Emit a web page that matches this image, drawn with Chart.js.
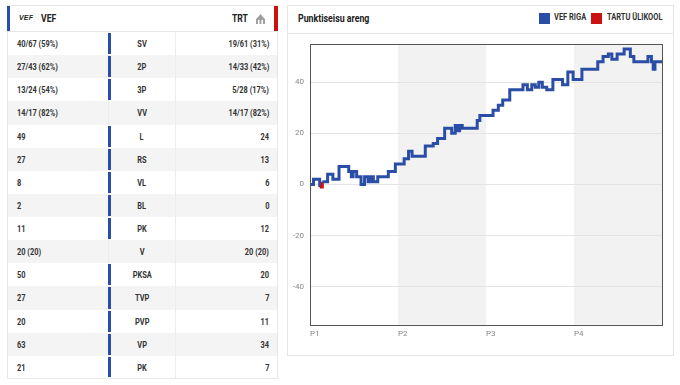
<!DOCTYPE html>
<html>
<head>
<meta charset="utf-8">
<script src="https://cdn.jsdelivr.net/npm/chart.js@4.4.1/dist/chart.umd.min.js"></script>
<style>
  body { margin: 0; background: #fff; width: 680px; height: 385px; overflow: hidden; position: relative;
         font-family: Roboto, sans-serif; color: #333; }
  .nar { display: inline-block; transform: scaleX(0.78); transform-origin: left center; white-space: nowrap; }
  .stats { position: absolute; left: 7px; top: 5px; width: 271px; }
  .stats-head { position: relative; height: 27px; border: 1px solid #e6e6e6; border-left: 0; border-right: 0; box-sizing: border-box; }
  .stats-head .bar-l { position: absolute; left: 0; top: 0; bottom: 0; width: 3px; background: #2a4ea6; }
  .stats-head .bar-r { position: absolute; right: 0; top: 0; bottom: 0; width: 4px; background: #cc1111; }
  .logo { position: absolute; left: 12px; top: 8px; font: italic 900 7px Arial, sans-serif; letter-spacing: 0.2px; color: #222; }
  .team { position: absolute; top: 6px; font-weight: bold; font-size: 10.5px; color: #222; transform: scaleX(0.82); transform-origin: left center; }
  table { border-collapse: collapse; width: 271px; table-layout: fixed; }
  td { height: 23.13px; padding: 0; font-size: 9.5px; font-weight: bold; border: 1px solid #ececec; border-top: 0; border-bottom: 0; box-sizing: border-box; white-space: nowrap; }
  tr:nth-child(even) td { background: #f4f4f4; }
  td.l { padding-left: 9px; width: 101px; border-left: 1px solid #e8e8e8; }
  td.m { text-align: center; width: 67px; position: relative; }
  td.m .nar { transform-origin: center center; }
  td.r { text-align: right; padding-right: 8px; border-right: 1px solid #e8e8e8; }
  td.r .nar { transform-origin: right center; }
  tr:last-child td { border-bottom: 1px solid #e8e8e8; }
  td.m .win { position: absolute; left: -1px; top: 1px; bottom: 1px; width: 3px; background: #2a4ea6; }
  .panel { position: absolute; left: 287px; top: 5px; width: 387px; height: 351px; border: 1px solid #e6e6e6; box-sizing: border-box; }
  .panel-head { height: 27px; border-bottom: 1px solid #e6e6e6; position: relative; }
  .panel-head .title { position: absolute; left: 10px; top: 6px; font-weight: bold; font-size: 11px; color: #222; transform: scaleX(0.8); transform-origin: left center; white-space: nowrap; }
  .leg-box { position: absolute; top: 13px; width: 11px; height: 11px; }
  .leg-text { position: absolute; top: 12px; font-size: 8.5px; font-weight: bold; color: #333; transform: scaleX(0.88); transform-origin: left center; white-space: nowrap; }
  .chart-box { position: absolute; left: 288px; top: 33px; width: 386px; height: 323px; }
</style>
</head>
<body>

<div class="stats">
  <div class="stats-head">
    <div class="bar-l"></div>
    <div class="logo">VEF</div>
    <div class="team" style="left:34px">VEF</div>
    <div class="team" style="left:225px">TRT</div>
    <svg style="position:absolute;left:248px;top:7px" width="11" height="12" viewBox="0 0 11 12">
      <path d="M1 11 L1 6 L3 4 L5.5 1 L8 4 L10 6 L10 11 Z" fill="#a0a0a0"/>
      <rect x="3" y="7" width="1.5" height="4" fill="#fff"/><rect x="6.5" y="7" width="1.5" height="4" fill="#fff"/>
    </svg>
    <div class="bar-r"></div>
  </div>
  <table id="stats-body"></table>
</div>

<div class="panel">
  <div class="panel-head">
    <div class="title">Punktiseisu areng</div>
  </div>
</div>
<div class="leg-box" style="left:539px;background:#2a4ea6"></div>
<div class="leg-text" style="left:554px">VEF RIGA</div>
<div class="leg-box" style="left:591px;background:#cc1111"></div>
<div class="leg-text" style="left:607px">TARTU ÜLIKOOL</div>
<div class="chart-box"><canvas id="scoreChart"></canvas></div>

<script>
// team stats table
const statLabels = ['SV', '2P', '3P', 'VV', 'L', 'RS', 'VL', 'BL', 'PK', 'V', 'PKSA', 'TVP', 'PVP', 'VP', 'PK'];
const vefStats = ['40/67 (59%)', '27/43 (62%)', '13/24 (54%)', '14/17 (82%)', '49', '27', '8', '2', '11', '20 (20)', '50', '27', '20', '63', '21'];
const trtStats = ['19/61 (31%)', '14/33 (42%)', '5/28 (17%)', '14/17 (82%)', '24', '13', '6', '0', '12', '20 (20)', '20', '7', '11', '34', '7'];
const vefWins = [true, true, true, false, true, true, true, true, true, false, true, true, true, true, true];

// score difference (VEF - TRT) over game minutes
const gameMinutes = [0, 0.4, 1.1, 1.4, 2.0, 2.6, 3.3, 4.4, 4.7, 4.9, 5.3, 5.8, 6.2, 6.6, 6.9, 7.2, 7.7, 8.9, 9.7, 10.7,
  11.2, 11.6, 13.1, 14.0, 14.5, 15.3, 16.1, 16.5, 16.8, 17.0, 17.3, 19.0, 19.3, 20.8, 21.4, 21.9, 22.7, 24.2, 24.7, 25.2,
  25.6, 26.0, 26.4, 26.9, 27.6, 28.7, 29.3, 29.9, 30.9, 32.7, 33.3, 33.9, 34.3, 34.9, 35.7, 36.4, 36.8, 38.4, 38.8, 39.0, 39.2, 40];
const scoreDiff = [0, 2, -1, 1, 4, 2, 7, 5, 3, 5, 3, 0, 3, 1, 3, 1, 3, 5, 8, 10,
  13, 11, 15, 16, 18, 22, 20, 23, 21, 23, 22, 25, 27, 29, 31, 33, 37, 39, 37, 39,
  38, 40, 38, 37, 41, 39, 44, 41, 45, 48, 50, 51, 49, 51, 53, 50, 48, 50, 48, 45, 48, 48];
const periodLabels = ['P1', 'P2', 'P3', 'P4'];
const periodStarts = [0, 10, 20, 30];
const yTickValues = [-40, -20, 0, 20, 40];

const tbody = document.getElementById('stats-body');
statLabels.forEach((label, i) => {
  const row = document.createElement('tr');
  row.innerHTML = `
    <td class="l"><span class="nar">${vefStats[i]}</span></td>
    <td class="m">${vefWins[i] ? '<div class="win"></div>' : ''}<span class="nar">${label}</span></td>
    <td class="r"><span class="nar">${trtStats[i]}</span></td>
  `;
  tbody.appendChild(row);
});

const BLUE = '#2a4ea6';
const RED = '#cc1111';

// shade 2nd and 4th quarter, frame the plot
const periodBands = {
  id: 'periodBands',
  beforeDraw(chart) {
    const { ctx, chartArea, scales } = chart;
    ctx.save();
    ctx.fillStyle = '#f2f2f2';
    [1, 3].forEach(i => {
      const x0 = scales.x.getPixelForValue(periodStarts[i]);
      const x1 = scales.x.getPixelForValue(i + 1 < periodStarts.length ? periodStarts[i + 1] : scales.x.max);
      ctx.fillRect(x0, chartArea.top, x1 - x0, chartArea.bottom - chartArea.top);
    });
    ctx.restore();
  },
  afterDraw(chart) {
    const { ctx, chartArea } = chart;
    ctx.save();
    ctx.strokeStyle = '#555';
    ctx.lineWidth = 1;
    ctx.strokeRect(Math.round(chartArea.left) + 0.5, Math.round(chartArea.top) + 0.5,
      Math.round(chartArea.right - chartArea.left), Math.round(chartArea.bottom - chartArea.top));
    ctx.restore();
  }
};

new Chart(document.getElementById('scoreChart'), {
  type: 'line',
  data: {
    datasets: [{
      data: gameMinutes.map((m, i) => ({ x: m, y: scoreDiff[i] })),
      stepped: true,
      borderColor: BLUE,
      borderWidth: 3,
      pointRadius: 0,
      fill: false,
      segment: {
        borderColor: c => (c.p0.parsed.y < 0 ? RED : BLUE)
      }
    }]
  },
  options: {
    responsive: true,
    maintainAspectRatio: false,
    animation: false,
    layout: { padding: { top: 9, right: 12, left: 0, bottom: 0 } },
    plugins: { legend: { display: false }, tooltip: { enabled: false } },
    scales: {
      x: {
        type: 'linear',
        min: 0,
        max: 40,
        afterBuildTicks: s => { s.ticks = periodStarts.map(v => ({ value: v })); },
        afterFit: s => { s.height = 31; },
        grid: { display: false, drawTicks: false },
        border: { display: false },
        ticks: {
          align: 'start',
          autoSkip: false,
          maxRotation: 0,
          padding: 4,
          color: '#888',
          font: { family: 'Roboto', size: 8 },
          callback: (v, i) => periodLabels[i]
        }
      },
      y: {
        min: -55,
        max: 55,
        afterBuildTicks: s => { s.ticks = yTickValues.map(v => ({ value: v })); },
        afterFit: s => { s.width = 22; },
        grid: { color: '#e4e4e4', drawTicks: false },
        border: { display: false },
        ticks: {
          padding: 6,
          color: '#888',
          font: { family: 'Roboto', size: 8 }
        }
      }
    }
  },
  plugins: [periodBands]
});
</script>
</body>
</html>
